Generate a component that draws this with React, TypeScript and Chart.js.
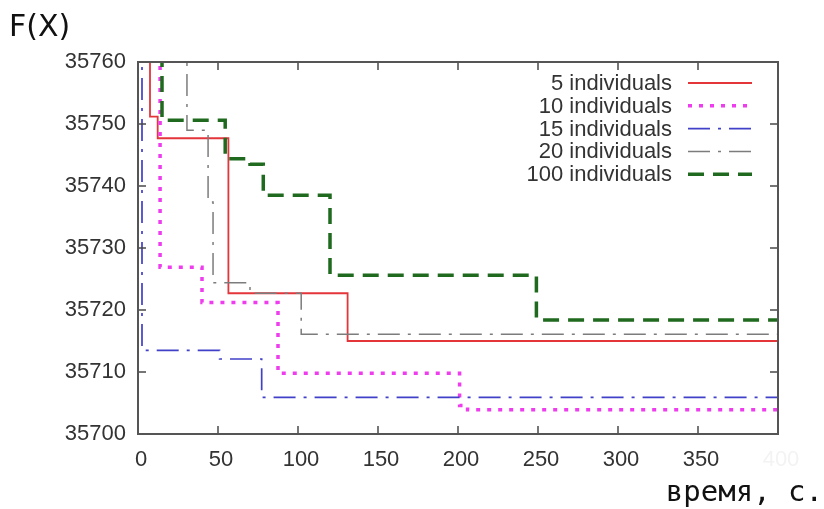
import { useEffect, useRef } from 'react';
import { Chart, registerables } from 'chart.js';

Chart.register(...registerables);

// Axis ticks
const timeTicks = [0, 50, 100, 150, 200, 250, 300, 350, 400];
const fxTicks = [35700, 35710, 35720, 35730, 35740, 35750, 35760];

// Best objective value F(X) over time (s); each value holds from its time onward
const times5 = [0, 7.5, 12.3, 56.5, 131, 400];
const fx5 = [35770, 35751.2, 35747.7, 35722.7, 35715, 35715];

const times10 = [0, 13.8, 40, 87.5, 201, 206, 400];
const fx10 = [35770, 35726.9, 35721.2, 35709.8, 35704.6, 35703.9, 35703.9];

const times15 = [0, 2.5, 51, 77.3, 400];
const fx15 = [35770, 35713.5, 35712.1, 35705.9, 35705.9];

const times20 = [0, 30.6, 43.8, 46.9, 70, 102, 400];
const fx20 = [35770, 35749, 35737.4, 35724.4, 35722.7, 35716.1, 35716.1];

const times100 = [0, 15, 54.5, 70, 78.3, 120, 249, 400];
const fx100 = [35770, 35750.6, 35744.4, 35743.5, 35738.5, 35725.6, 35718.4, 35718.4];

const seriesLabels = ['5 individuals', '10 individuals', '15 individuals', '20 individuals', '100 individuals'];
const seriesTimes = [times5, times10, times15, times20, times100];
const seriesValues = [fx5, fx10, fx15, fx20, fx100];

const seriesStyles = [
  { color: '#e3353a', width: 1.8, dash: [] as number[] },
  { color: '#ee3cee', width: 3.5, dash: [4, 7] },
  { color: '#4040c8', width: 1.7, dash: [22, 8, 3, 8] },
  { color: '#7c7c7c', width: 1.5, dash: [22, 8, 3, 8] },
  { color: '#1f6a1f', width: 3.5, dash: [16, 9] },
];

const TEXT_COLOR = '#333333';
const SANS = "'Liberation Sans', Arial, sans-serif";
const DEJAVU = "'DejaVu Sans', sans-serif";
const MONO = "'DejaVu Sans Mono', monospace";

const framePlugin = {
  id: 'frame',
  afterDatasetsDraw(chart: any) {
    const { ctx, chartArea: a, scales } = chart;
    const len = 8;
    ctx.save();
    ctx.setLineDash([]);
    ctx.strokeStyle = '#4a4a4a';
    ctx.lineWidth = 1.5;
    ctx.beginPath();
    for (const v of timeTicks) {
      if (v === timeTicks[0] || v === timeTicks[timeTicks.length - 1]) continue;
      const px = scales.x.getPixelForValue(v);
      ctx.moveTo(px, a.bottom);
      ctx.lineTo(px, a.bottom - len);
      ctx.moveTo(px, a.top);
      ctx.lineTo(px, a.top + len);
    }
    for (const v of fxTicks) {
      if (v === fxTicks[0] || v === fxTicks[fxTicks.length - 1]) continue;
      const py = scales.y.getPixelForValue(v);
      ctx.moveTo(a.left, py);
      ctx.lineTo(a.left + len, py);
      ctx.moveTo(a.right, py);
      ctx.lineTo(a.right - len, py);
    }
    ctx.stroke();
    ctx.lineWidth = 2;
    ctx.strokeStyle = '#555555';
    ctx.strokeRect(a.left, a.top, a.right - a.left, a.bottom - a.top);
    ctx.restore();
  },
};

const keyPlugin = {
  id: 'key',
  afterDraw(chart: any) {
    const { ctx } = chart;
    const textRight = 672;
    const sampleLeft = 688;
    const sampleRight = 752;
    const top = 83;
    const step = 22.8;
    ctx.save();
    ctx.font = `22px ${SANS}`;
    ctx.textAlign = 'right';
    ctx.textBaseline = 'middle';
    seriesLabels.forEach((label, i) => {
      const y = top + i * step;
      const st = seriesStyles[i];
      ctx.fillStyle = TEXT_COLOR;
      ctx.fillText(label, textRight, y + 1);
      ctx.strokeStyle = st.color;
      ctx.lineWidth = st.width;
      ctx.setLineDash(st.dash);
      ctx.beginPath();
      ctx.moveTo(sampleLeft, y);
      ctx.lineTo(sampleRight, y);
      ctx.stroke();
    });
    ctx.restore();
  },
};

const titlesPlugin = {
  id: 'titles',
  afterDraw(chart: any) {
    const { ctx } = chart;
    ctx.save();
    ctx.fillStyle = '#111111';
    ctx.textBaseline = 'alphabetic';
    ctx.textAlign = 'left';
    ctx.font = `30px ${DEJAVU}`;
    ctx.fillText('F(X)', 9, 36);
    ctx.textAlign = 'right';
    ctx.font = `29px ${MONO}`;
    ctx.fillText('время, с.', 823, 501);
    ctx.restore();
  },
};

export default function App() {
  const canvasRef = useRef<HTMLCanvasElement | null>(null);

  useEffect(() => {
    const canvas = canvasRef.current;
    if (!canvas) return;
    const chart = new Chart(canvas, {
      type: 'line',
      data: {
        datasets: seriesLabels.map((label, i) => ({
          label,
          data: seriesTimes[i].map((t, k) => ({ x: t, y: seriesValues[i][k] })),
          borderColor: seriesStyles[i].color,
          borderWidth: seriesStyles[i].width,
          borderDash: seriesStyles[i].dash,
          borderCapStyle: 'butt' as const,
          stepped: 'before' as const,
          pointRadius: 0,
          fill: false,
          tension: 0,
          order: seriesLabels.length - 1 - i,
        })),
      },
      options: {
        animation: false,
        responsive: false,
        maintainAspectRatio: false,
        events: [],
        layout: { padding: { top: 62, right: 46, bottom: 0, left: 0 } },
        plugins: {
          legend: { display: false },
          tooltip: { enabled: false },
        },
        scales: {
          x: {
            type: 'linear',
            min: 0,
            max: 400,
            afterBuildTicks: (s: any) => {
              s.ticks = timeTicks.map((v) => ({ value: v }));
            },
            afterFit: (s: any) => {
              s.height = 75;
            },
            grid: { display: false, drawTicks: false },
            border: { display: false },
            ticks: {
              padding: 13,
              labelOffset: 3,
              maxRotation: 0,
              autoSkip: false,
              font: { family: SANS, size: 22 },
              color: (c: any) => (c.tick && c.tick.value === 400 ? '#f3f3f3' : TEXT_COLOR),
            },
          },
          y: {
            type: 'linear',
            min: 35700,
            max: 35760,
            afterBuildTicks: (s: any) => {
              s.ticks = fxTicks.map((v) => ({ value: v }));
            },
            afterFit: (s: any) => {
              s.width = 138;
            },
            grid: { display: false, drawTicks: false },
            border: { display: false },
            ticks: {
              padding: 12,
              autoSkip: false,
              font: { family: SANS, size: 22 },
              color: TEXT_COLOR,
              callback: (v: any) => String(v),
            },
          },
        },
      },
      plugins: [framePlugin, keyPlugin, titlesPlugin],
    });
    return () => chart.destroy();
  }, []);

  return (
    <div style={{ position: 'fixed', left: 0, top: 0, width: 824, height: 509, background: '#ffffff' }}>
      <canvas ref={canvasRef} width={824} height={509} style={{ display: 'block' }} />
    </div>
  );
}
